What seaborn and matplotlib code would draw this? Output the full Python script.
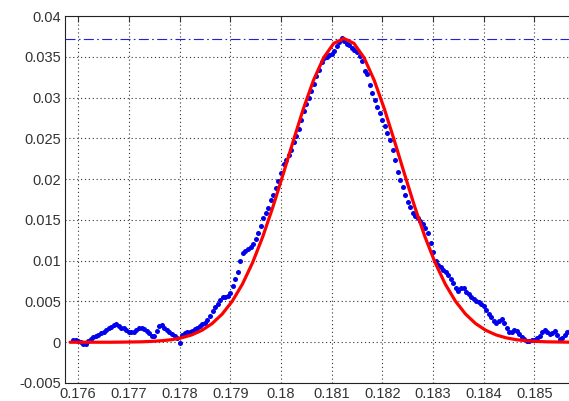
import numpy as np
import pandas as pd
import matplotlib
matplotlib.use("Agg")
import matplotlib.pyplot as plt
import seaborn as sns
from matplotlib.ticker import FuncFormatter

# измеренные точки (синие)
measX0 = 0.17590
measStep = 0.00005
measY = [
    0.0003, 0.0003, 0.0002, 0.0000, -0.0002, -0.0002, 0.0001, 0.0004, 0.0006, 0.0008,
    0.0009, 0.0011, 0.0013, 0.0015, 0.0017, 0.0019, 0.0021, 0.0022, 0.0020, 0.0018,
    0.0017, 0.0015, 0.0013, 0.0012, 0.0013, 0.0015, 0.0017, 0.0018, 0.0016, 0.0014,
    0.0011, 0.0008, 0.0008, 0.0014, 0.0020, 0.0021, 0.0018, 0.0015, 0.0012, 0.0010,
    0.0008, 0.0005, -0.0001, 0.0009, 0.0011, 0.0012, 0.0013, 0.0014, 0.0016, 0.0018,
    0.0020, 0.0022, 0.0024, 0.0027, 0.0032, 0.0038, 0.0043, 0.0047, 0.0052, 0.0055,
    0.0056, 0.0057, 0.0060, 0.0069, 0.0077, 0.0086, 0.0099, 0.0109, 0.0112, 0.0114,
    0.0117, 0.0120, 0.0127, 0.0134, 0.0142, 0.0152, 0.0159, 0.0165, 0.0174, 0.0181,
    0.0189, 0.0198, 0.0208, 0.0219, 0.0224, 0.0229, 0.0236, 0.0245, 0.0253, 0.0261,
    0.0272, 0.0284, 0.0292, 0.0299, 0.0308, 0.0317, 0.0326, 0.0334, 0.0343, 0.0349,
    0.0350, 0.0352, 0.0354, 0.0357, 0.0363, 0.0368, 0.0373, 0.0369, 0.0366, 0.0364,
    0.0361, 0.0358, 0.0356, 0.0351, 0.0345, 0.0333, 0.0329, 0.0315, 0.0306, 0.0297,
    0.0289, 0.0281, 0.0272, 0.0265, 0.0256, 0.0248, 0.0236, 0.0224, 0.0209, 0.0199,
    0.0190, 0.0181, 0.0172, 0.0166, 0.0159, 0.0155, 0.0152, 0.0149, 0.0145, 0.0140,
    0.0134, 0.0122, 0.0111, 0.0100, 0.0095, 0.0092, 0.0089, 0.0086, 0.0082, 0.0077,
    0.0073, 0.0066, 0.0063, 0.0066, 0.0066, 0.0062, 0.0059, 0.0056, 0.0053, 0.0051,
    0.0049, 0.0047, 0.0045, 0.0040, 0.0035, 0.0031, 0.0026, 0.0023, 0.0026, 0.0028,
    0.0024, 0.0017, 0.0013, 0.0012, 0.0015, 0.0014, 0.0010, 0.0007, 0.0004, 0.0001,
    0.0002, 0.0003, 0.0003, 0.0005, 0.0008, 0.0013, 0.0015, 0.0012, 0.0010, 0.0011,
    0.0014, 0.0009, 0.0004, 0.0005, 0.0009, 0.0012, 0.0014,
]

# аппроксимация (красная)
fitX0 = 0.17584
fitStep = 0.0002
fitY = [
    0.0, 0.0, 0.0, 0.0, 0.0, 0.00001, 0.00003, 0.00005, 0.00010, 0.00018,
    0.00031, 0.00054, 0.00090, 0.00146, 0.00228, 0.00345, 0.00504, 0.00713, 0.00976, 0.01293,
    0.01657, 0.02055, 0.02464, 0.02859, 0.03210, 0.03487, 0.03664, 0.03725, 0.03664, 0.03487,
    0.03210, 0.02859, 0.02464, 0.02055, 0.01657, 0.01293, 0.00976, 0.00713, 0.00504, 0.00345,
    0.00228, 0.00146, 0.00090, 0.00054, 0.00031, 0.00018, 0.00010, 0.00005, 0.00003, 0.00001,
    0.0,
]

peakLevel = 0.0372

xTicks = [0.176, 0.177, 0.178, 0.179, 0.18, 0.181, 0.182, 0.183, 0.184, 0.185]
yTicks = [-0.005, 0, 0.005, 0.01, 0.015, 0.02, 0.025, 0.03, 0.035, 0.04]

measDf = pd.DataFrame({"x": measX0 + measStep * np.arange(len(measY)), "y": measY})
fitDf = pd.DataFrame({"x": fitX0 + fitStep * np.arange(len(fitY)), "y": fitY})

sns.set_style("white")
plt.rcParams['font.family'] = ['Liberation Sans', 'DejaVu Sans']

fig = plt.figure(figsize=(5.69, 4.01), dpi=100)
ax = fig.add_axes([65 / 569, 18 / 401, 514 / 569, 367 / 401])

sns.scatterplot(data=measDf, x="x", y="y", color="#0000ee", s=13, linewidth=0,
                marker="o", ax=ax, zorder=3)
sns.lineplot(data=fitDf, x="x", y="y", color="#ff0000", linewidth=2.3, ax=ax,
             zorder=4, sort=False)
ax.axhline(peakLevel, color="#2020dd", linestyle=(0, (9, 3, 1.5, 3)), linewidth=0.8, zorder=2)

ax.set_xlim(0.17574, 0.17574 + 514 / 50700)
ax.set_ylim(-0.005, 0.04)
ax.set_xticks(xTicks)
ax.set_yticks(yTicks)
fmt = FuncFormatter(lambda v, p: "%g" % round(v, 6))
ax.xaxis.set_major_formatter(fmt)
ax.yaxis.set_major_formatter(fmt)
ax.set_xlabel("")
ax.set_ylabel("")

ax.grid(True, linestyle=(0, (1, 2.5)), color="#333333", linewidth=0.8)
ax.tick_params(direction="in", length=4, width=0.8, labelsize=10.5,
               top=True, right=True, colors="#333333", pad=3)
for s in ax.spines.values():
    s.set_color("#222222")
    s.set_linewidth(0.8)

fig.savefig("out.png", dpi=100)
